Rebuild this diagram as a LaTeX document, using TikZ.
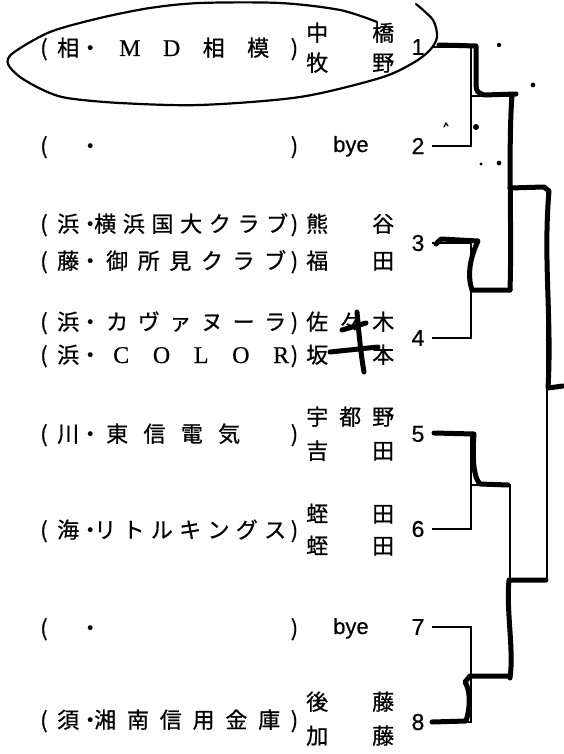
\documentclass[tikz,border=0pt]{standalone}
\usepackage{fontspec}
\setmainfont{Liberation Sans}
\newfontfamily\jpfont[FakeBold=0.7]{Noto Sans CJK JP}
\newfontfamily\latfont[FakeBold=0.5]{Liberation Serif}
\newfontfamily\numfont[FakeBold=0.6]{Liberation Sans}
\usetikzlibrary{positioning}
\tikzset{
    seed/.style={font=\numfont\fontsize{23}{24}\selectfont, inner xsep=7pt, inner ysep=0pt},
    club/.style={anchor=base west, inner sep=0pt, font=\jpfont\fontsize{22}{24}\selectfont},
    player/.style={anchor=base west, inner sep=0pt, font=\jpfont\fontsize{22}{24}\selectfont},
    byename/.style={anchor=base west, inner sep=0pt, font=\numfont\fontsize{22}{24}\selectfont},
    line/.style={line width=1.8pt},
    pen/.style={line width=5pt, line cap=round, line join=round},
    loop/.style={line width=2.2pt, line cap=round}
}
% ( pref . name ) set in a fixed width
\newcommand\clubtext[4]{\makebox[258pt][l]{\makebox[17pt][l]{(}\makebox[22pt]{#1}・\hspace{#2}\makebox[#3][s]{#4}\hfill)}}
\newcommand\lat[1]{{\latfont\fontsize{24}{24}\selectfont #1}}

\begin{document}
\begin{tikzpicture}[x=1pt, y=-1pt]
    \useasboundingbox (0,0) rectangle (563,754);
    % Clubs
    \node[club] (c1) at (40,56) {\clubtext{相}{18pt}{150pt}{\lat{M} \lat{D} 相 模}};
    \node[club] (c2) at (40,154) {\clubtext{}{0pt}{10pt}{}};
    \node[club] (c3a) at (40,232) {\clubtext{浜}{-7pt}{194pt}{横 浜 国 大 ク ラ ブ}};
    \node[club] (c3b) at (40,269) {\clubtext{藤}{5pt}{180pt}{御 所 見 ク ラ ブ}};
    \node[club] (c4a) at (40,330) {\clubtext{浜}{5pt}{180pt}{カ ヴ ァ ヌ ー ラ}};
    \node[club] (c4b) at (40,363) {\clubtext{浜}{12pt}{176pt}{\lat{C} \lat{O} \lat{L} \lat{O} \lat{R}}};
    \node[club] (c5) at (40,442) {\clubtext{川}{5pt}{134pt}{東 信 電 気}};
    \node[club] (c6) at (40,538) {\clubtext{海}{-7pt}{192pt}{リ ト ル キ ン グ ス}};
    \node[club] (c7) at (40,636) {\clubtext{}{0pt}{10pt}{}};
    \node[club] (c8) at (40,728) {\clubtext{須}{-7pt}{186pt}{湘 南 信 用 金 庫}};
    % Players
    \node[player] (p1a) at (306,41) {\makebox[88pt][s]{中 橋}};
    \node[player] (p1b) at (306,71) {\makebox[88pt][s]{牧 野}};
    \node[byename] (p2) at (333,152) {bye};
    \node[player] (p3a) at (306,232) {\makebox[88pt][s]{熊 谷}};
    \node[player] (p3b) at (306,269) {\makebox[88pt][s]{福 田}};
    \node[player] (p4a) at (306,330) {\makebox[88pt][s]{佐 々 木}};
    \node[player] (p4b) at (306,363) {\makebox[88pt][s]{坂 本}};
    \node[player] (p5a) at (306,425) {\makebox[88pt][s]{宇 都 野}};
    \node[player] (p5b) at (306,459) {\makebox[88pt][s]{吉 田}};
    \node[player] (p6a) at (306,522) {\makebox[88pt][s]{蛭 田}};
    \node[player] (p6b) at (306,554) {\makebox[88pt][s]{蛭 田}};
    \node[byename] (p7) at (333,634) {bye};
    \node[player] (p8a) at (306,710) {\makebox[88pt][s]{後 藤}};
    \node[player] (p8b) at (306,744) {\makebox[88pt][s]{加 藤}};
    % Seeds
    \foreach \n/\y in {1/47,2/146,3/243,4/338,5/434,6/529,7/627,8/722}
        \node[seed] (s\n) at (418,\y) {\n};
    % Joins
    \coordinate (j12) at (471,96);
    \coordinate (j34) at (471,290);
    \coordinate (j56) at (471,485);
    \coordinate (j78) at (471,675);
    \coordinate (q14) at (510,188);
    \coordinate (q58) at (510,580);
    \coordinate (fin) at (547,388);
    % Bracket
    \draw[line] (s1.east) -| (j12) |- (s2.east);
    \draw[line] (s3.east) -| (j34) |- (s4.east);
    \draw[line] (s5.east) -| (j56) |- (s6.east);
    \draw[line] (s7.east) -| (j78) |- (s8.east);
    \draw[line] (j12) -| (q14) |- (j34);
    \draw[line] (j56) -| (q58) |- (j78);
    \draw[line] (q14) -| (fin) |- (q58);
    % Pen marks
    \draw[pen] (439,45) -- (476,46) -- (476,86) .. controls (477,92) .. (484,95) -- (516,94);
    \draw[pen] (512,95) .. controls (508,150) and (512,230) .. (510,290);
    \draw[pen] (436,244) -- (441,239) -- (478,241) .. controls (470,258) and (467,275) .. (472,290) -- (510,290);
    \draw[pen] (510,188) -- (544,187) -- (549,191) .. controls (543,260) and (552,320) .. (548,388) -- (563,386);
    \draw[pen] (434,433) -- (474,434) .. controls (472,460) and (474,478) .. (480,484) -- (508,485);
    \draw[pen] (432,722) -- (466,721) .. controls (471,705) and (470,690) .. (465,682) -- (470,676) -- (508,676);
    \draw[pen] (510,678) .. controls (514,650) and (506,610) .. (509,580) -- (546,580);
    \draw[pen] (357,312) .. controls (359,335) and (361,355) .. (364,372);
    \draw[pen] (342,330) -- (366,323);
    \draw[pen] (330,352) -- (378,347);
    \draw[loop] plot[smooth] coordinates {(377,22) (340,10) (280,3) (200,3) (150,8) (100,18) (50,32) (13,53) (8,64) (20,77) (43,90) (67,98) (120,103) (200,105) (300,97) (380,78) (413,63) (430,50) (437,37) (433,20) (416,4)};
    \fill (499,45) circle (2.2pt);
    \fill (533,85) circle (2.4pt);
    \fill (476,127) circle (3pt);
    \fill (481,164) circle (1.6pt);
    \fill (499,163) circle (2.4pt);
    \draw[loop, line width=1.2pt] (444,127) -- (446,123) -- (448,126);
\end{tikzpicture}
\end{document}
